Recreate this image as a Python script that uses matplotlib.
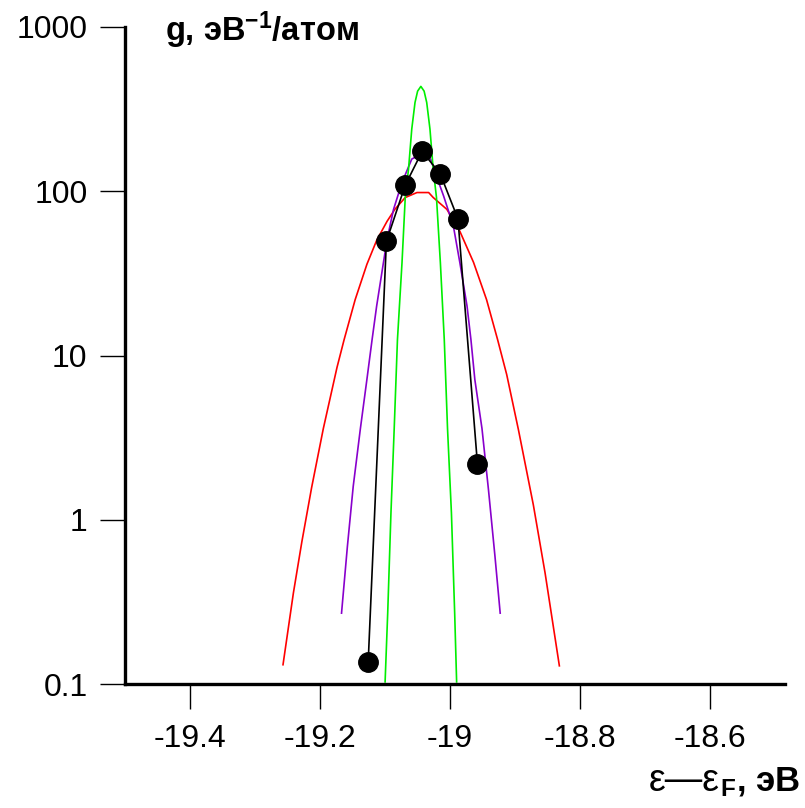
import matplotlib
matplotlib.use('Agg')
import matplotlib.pyplot as plt
from matplotlib.ticker import NullLocator

plt.rcParams['font.family'] = ['Liberation Sans', 'DejaVu Sans']
plt.rcParams['mathtext.fontset'] = 'custom'
plt.rcParams['mathtext.rm'] = 'Liberation Sans'
plt.rcParams['mathtext.bf'] = 'Liberation Sans:bold'
plt.rcParams['mathtext.it'] = 'Liberation Sans:italic'

# calculated points (black)
calc_x = [-19.126, -19.098, -19.069, -19.043, -19.015, -18.988, -18.958]
calc_g = [0.136, 49.5, 109, 175, 127, 68, 2.19]

# red fit
red_x = [-19.257, -19.241, -19.228, -19.213, -19.195, -19.174, -19.163, -19.146,
         -19.128, -19.113, -19.097, -19.085, -19.069, -19.051, -19.033, -19.026,
         -19.005, -18.985, -18.964, -18.944, -18.927, -18.913, -18.895, -18.872,
         -18.854, -18.832]
red_g = [0.131, 0.359, 0.735, 1.57, 3.59, 8.45, 12.5, 21.9,
         35.9, 50.2, 65.6, 77.6, 91.6, 98.2, 98.2, 91.6,
         77.6, 57.0, 36.9, 21.9, 12.5, 7.66, 3.54, 1.23,
         0.475, 0.129]

# purple fit
purple_x = [-19.167, -19.158, -19.149, -19.138, -19.128, -19.120, -19.113, -19.105,
            -19.097, -19.087, -19.074, -19.059, -19.045, -19.030, -19.023, -19.010,
            -18.995, -18.985, -18.974, -18.968, -18.962, -18.951, -18.941, -18.931,
            -18.923]
purple_g = [0.270, 0.687, 1.60, 3.59, 7.14, 12.5, 20.0, 31.9,
            50.9, 77.6, 113, 157, 168, 157, 130, 93.5,
            61.4, 36.7, 20.0, 12.5, 7.14, 3.59, 1.52, 0.597,
            0.270]

# green fit
green_x = [-19.100, -19.096, -19.091, -19.086, -19.081, -19.074, -19.069, -19.064,
           -19.059, -19.054, -19.050, -19.045, -19.040, -19.036, -19.031, -19.026,
           -19.021, -19.015, -19.009, -19.004, -18.998, -18.993, -18.990]
green_g = [0.103, 0.270, 1.10, 3.59, 12.5, 36.7, 91.8, 136,
           239, 347, 407, 435, 407, 347, 239, 136,
           91.8, 36.7, 12.5, 3.59, 1.10, 0.270, 0.103]

x_ticks = [-19.4, -19.2, -19.0, -18.8, -18.6]
x_ticklabels = ['-19.4', '-19.2', '-19', '-18.8', '-18.6']
y_ticks = [0.1, 1, 10, 100, 1000]
y_ticklabels = ['0.1', '1', '10', '100', '1000']

fig = plt.figure(figsize=(8.05, 8.08), dpi=100)
ax = fig.add_axes([125 / 805, 1 - 684 / 808, 660 / 805, 657 / 808])

ax.plot(red_x, red_g, color='#ff0000', lw=1.2)
ax.plot(purple_x, purple_g, color='#8800cc', lw=1.2)
ax.plot(green_x, green_g, color='#00ee00', lw=1.2)
ax.plot(calc_x, calc_g, color='black', lw=1.2, marker='o', markersize=14,
        markeredgecolor='black', markerfacecolor='black')

ax.set_yscale('log')
ax.set_xlim(-19.5, -18.485)
ax.set_ylim(0.1, 1000)

ax.set_xticks(x_ticks)
ax.set_xticklabels(x_ticklabels)
ax.set_yticks(y_ticks)
ax.set_yticklabels(y_ticklabels)
ax.yaxis.set_minor_locator(NullLocator())
ax.tick_params(axis='both', direction='out', length=18, width=1.0, labelsize=23)
ax.tick_params(axis='y', pad=9)
ax.tick_params(axis='x', pad=11)

for side in ['top', 'right']:
    ax.spines[side].set_visible(False)
for side in ['left', 'bottom']:
    ax.spines[side].set_linewidth(2.4)

# axis titles
fig.text(165 / 805, 1 - 30 / 808, 'g, эВ$^{\\mathbf{-1}}$/атом',
         fontsize=23.5, fontweight='bold', ha='left', va='center')

unit = fig.text(800 / 805, 1 - 791 / 808, '$_\\mathbf{F}$, эВ',
                fontsize=25, fontweight='bold', ha='right', va='baseline')
fig.canvas.draw()
bb = unit.get_window_extent()
fig.text(bb.x0 / fig.bbox.width, 1 - 791 / 808, 'ε—ε',
         fontsize=27, fontweight='light', ha='right', va='baseline')

fig.savefig('out.png', dpi=100)
